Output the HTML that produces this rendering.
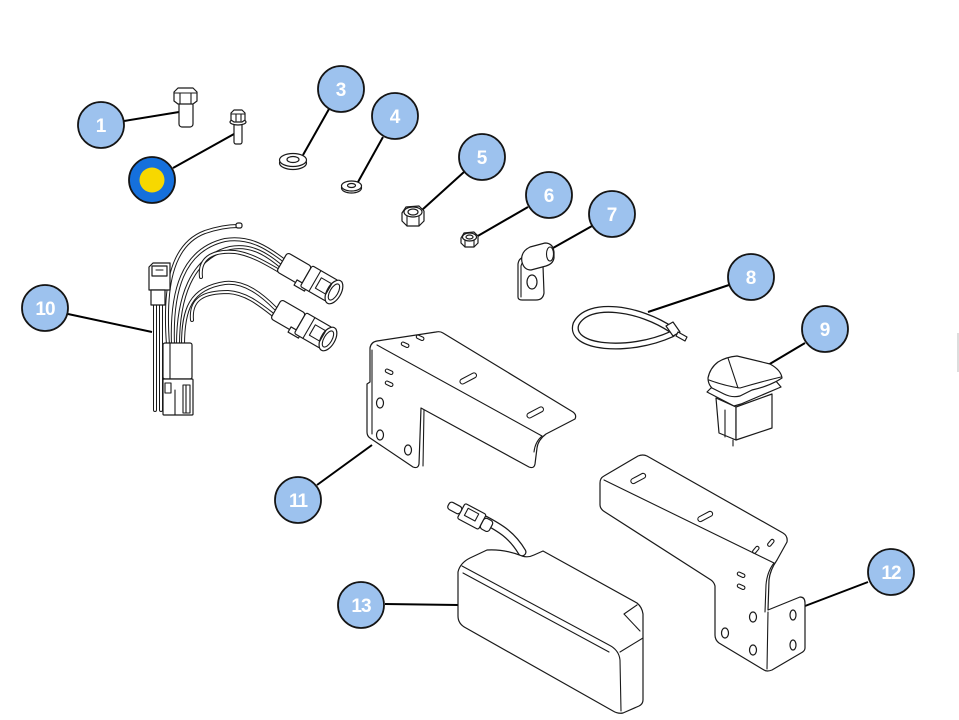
<!DOCTYPE html>
<html>
<head>
<meta charset="utf-8">
<style>
html,body{margin:0;padding:0;background:#fff;}
svg{display:block;}
.p{fill:#fff;stroke:#1a1a1a;stroke-width:1.2;stroke-linejoin:round;stroke-linecap:round;}
.l{fill:none;stroke:#1a1a1a;stroke-width:1.1;stroke-linecap:round;stroke-linejoin:round;}
.ld{stroke:#000;stroke-width:2;fill:none;}
.c{fill:#9dc2ee;stroke:#151515;stroke-width:1.8;}
.t{fill:#fff;font-family:"Liberation Sans",sans-serif;font-weight:bold;font-size:19px;text-anchor:middle;}
.tw{stroke:#1a1a1a;stroke-width:4;fill:none;stroke-linecap:round;}
.ti{stroke:#fff;stroke-width:2;fill:none;stroke-linecap:round;}
</style>
</head>
<body>
<svg width="959" height="720" viewBox="0 0 959 720" xmlns="http://www.w3.org/2000/svg">
<rect width="959" height="720" fill="#fff"/>

<!-- Leader lines -->
<line class="ld" x1="124" y1="121" x2="179" y2="112"/>
<line class="ld" x1="173" y1="168" x2="234" y2="134"/>
<line class="ld" x1="329" y1="109" x2="303" y2="155"/>
<line class="ld" x1="383" y1="137" x2="358" y2="182"/>
<line class="ld" x1="464" y1="172" x2="422" y2="210"/>
<line class="ld" x1="528" y1="207" x2="476" y2="237"/>
<line class="ld" x1="592" y1="226" x2="553" y2="248"/>
<line class="ld" x1="729" y1="285" x2="648" y2="312"/>
<line class="ld" x1="805" y1="343" x2="768" y2="365"/>
<line class="ld" x1="68" y1="314" x2="152" y2="332"/>
<line class="ld" x1="317" y1="485" x2="372" y2="445"/>
<line class="ld" x1="868" y1="582" x2="805" y2="606"/>
<line class="ld" x1="385" y1="604" x2="458" y2="605"/>

<!-- Part 1: hex bolt -->
<rect class="p" x="179" y="102" width="14" height="25" rx="3"/>
<polygon class="p" points="174,92 178,88 193,88 197,92 197,101 193,104 178,104 174,101"/>
<line class="l" x1="174" y1="93" x2="197" y2="93"/>
<line class="l" x1="180" y1="93" x2="180" y2="104"/>
<line class="l" x1="191" y1="93" x2="191" y2="104"/>

<!-- Part 2: flange bolt -->
<rect class="p" x="234" y="122" width="8" height="22" rx="2"/>
<ellipse class="p" cx="238" cy="122" rx="8" ry="3"/>
<polygon class="p" points="231,113 234,110 242,110 245,113 245,120 242,122 234,122 231,120"/>
<line class="l" x1="231" y1="114" x2="245" y2="114"/>
<line class="l" x1="236" y1="114" x2="236" y2="121"/>
<line class="l" x1="241" y1="114" x2="241" y2="121"/>

<!-- Part 3: washer -->
<ellipse class="p" cx="293" cy="163" rx="13.5" ry="6.5"/>
<ellipse class="p" cx="293" cy="160" rx="13.5" ry="6.5"/>
<ellipse class="p" cx="293" cy="159.5" rx="6" ry="3"/>

<!-- Part 4: small washer -->
<ellipse class="p" cx="351.5" cy="188" rx="10" ry="5"/>
<ellipse class="p" cx="351.5" cy="186" rx="10" ry="5"/>
<ellipse class="p" cx="351.5" cy="185.5" rx="4" ry="2"/>

<!-- Part 5: nut -->
<polygon class="p" points="402,213 406,207 419,206 424,211 424,221 419,226 407,226 402,221"/>
<ellipse class="p" cx="413" cy="212" rx="9" ry="5"/>
<ellipse class="p" cx="413" cy="212" rx="5" ry="3"/>
<line class="l" x1="407" y1="216" x2="407" y2="226"/>
<line class="l" x1="419" y1="216" x2="419" y2="226"/>

<!-- Part 6: small nut -->
<polygon class="p" points="461,238 464,233 474,232 478,236 478,243 474,247 465,247 461,243"/>
<ellipse class="p" cx="469.5" cy="237" rx="7" ry="4"/>
<ellipse class="p" cx="469.5" cy="237" rx="3.5" ry="2"/>
<line class="l" x1="465" y1="240" x2="465" y2="247"/>
<line class="l" x1="474" y1="240" x2="474" y2="247"/>

<!-- Part 7: P-clip -->
<path class="p" d="M518,297 L518,264 Q519,257 526,257 L543,266 L544,293 Q543,300 536,300 L522,300 Q518,300 518,297 Z"/>
<path class="l" d="M521,297 L521,266 Q522,261 527,261"/>
<ellipse class="p" cx="532" cy="282" rx="5" ry="7"/>
<path class="p" d="M522,262 Q520,252 530,247 L545,243 Q553,243 554,252 L554,258 Q553,264 546,266 L531,270 Q524,270 522,262 Z"/>
<ellipse class="l" cx="550" cy="254" rx="3.5" ry="7"/>

<!-- Part 8: cable tie -->
<path class="tw" style="stroke-width:7" d="M672,330 C640,308 588,300 576,324 C568,348 628,354 672,334"/>
<path class="ti" style="stroke-width:4.4" d="M672,330 C640,308 588,300 576,324 C568,348 628,354 672,334"/>
<polygon class="p" points="666,326 673,322 680,332 673,336"/>
<path class="p" d="M678,332 L687,337 L685,341 L676,336 Z"/>

<!-- Part 9: rocker switch -->
<polygon class="p" points="716,398 736,407 736,440 719,433"/>
<polygon class="p" points="736,407 772,394 772,428 736,440"/>
<line class="l" x1="733" y1="440" x2="733" y2="446"/>
<line class="l" x1="725" y1="410" x2="725" y2="437"/>
<polygon class="p" points="707,392 711,388 775,380 781,387 741,404 734,406"/>
<path class="p" d="M708,378 Q710,368 718,362 Q726,357 737,356 L770,364 Q781,370 782,378 Q770,386 752,390 L740,396 Q732,398 724,394 L712,388 Q708,384 708,378 Z"/>
<path class="l" d="M709,380 Q725,386 740,388 Q760,382 781,377"/>
<line class="l" x1="728" y1="358" x2="738" y2="388"/>

<!-- Part 10: harness wires -->
<g>
<path class="tw" d="M155,305 L155,410"/><path class="ti" d="M155,305 L155,410"/>
<path class="tw" d="M161,305 L161,410"/><path class="ti" d="M161,305 L161,410"/>
<path class="tw" d="M168,345 C164,290 170,245 205,232 C220,227 230,226 238,226"/><path class="ti" d="M168,345 C164,290 170,245 205,232 C220,227 230,226 238,226"/>
<path class="tw" d="M173,345 C171,292 182,250 225,240 C250,236 268,248 286,262"/><path class="ti" d="M173,345 C171,292 182,250 225,240 C250,236 268,248 286,262"/>
<path class="tw" d="M178,345 C178,300 190,258 230,248 C252,244 268,255 283,268"/><path class="ti" d="M178,345 C178,300 190,258 230,248 C252,244 268,255 283,268"/>
<path class="tw" d="M201,277 C199,260 210,250 235,252 C250,254 264,262 281,272"/><path class="ti" d="M201,277 C199,260 210,250 235,252 C250,254 264,262 281,272"/>
<path class="tw" d="M183,345 C183,310 190,288 225,283 C245,281 262,295 275,308"/><path class="ti" d="M183,345 C183,310 190,288 225,283 C245,281 262,295 275,308"/>
<path class="tw" d="M192,320 C190,298 205,292 228,292 C245,293 258,303 272,314"/><path class="ti" d="M192,320 C190,298 205,292 228,292 C245,293 258,303 272,314"/>
<rect class="p" x="236" y="223" width="6" height="5" rx="2"/>
</g>
<!-- small connector -->
<polygon class="p" points="149,267 153,263 170,263 170,290 149,290"/>
<rect class="p" x="152" y="266" width="15" height="10"/>
<line class="l" x1="156" y1="270" x2="163" y2="270"/>
<rect class="p" x="151" y="290" width="14" height="15"/>
<!-- big connector -->
<rect class="p" x="163" y="343" width="29" height="36" rx="2"/>
<line class="l" x1="170" y1="343" x2="170" y2="379"/>
<rect class="p" x="163" y="379" width="30" height="36" rx="1"/>
<rect class="l" x="165" y="383" width="6" height="10"/>
<line class="l" x1="175" y1="390" x2="175" y2="415"/>
<rect class="l" x="183" y="385" width="7" height="28"/>
<line class="l" x1="186" y1="385" x2="186" y2="413"/>
<!-- upper connector -->
<g transform="translate(282,262) rotate(30)">
<rect class="p" x="0" y="-11" width="28" height="22" rx="3"/>
<rect class="p" x="22" y="8" width="12" height="6"/>
<rect class="p" x="28" y="-12" width="30" height="24" rx="2"/>
<line class="l" x1="38" y1="-12" x2="38" y2="12"/>
<ellipse class="p" cx="60" cy="0" rx="7" ry="13"/>
<ellipse class="l" cx="60" cy="0" rx="4" ry="9"/>
<rect class="l" x="42" y="-6" width="12" height="12"/>
</g>
<!-- lower connector -->
<g transform="translate(276,309) rotate(30)">
<rect class="p" x="0" y="-11" width="28" height="22" rx="3"/>
<rect class="p" x="22" y="8" width="12" height="6"/>
<rect class="p" x="28" y="-12" width="30" height="24" rx="2"/>
<line class="l" x1="38" y1="-12" x2="38" y2="12"/>
<ellipse class="p" cx="60" cy="0" rx="7" ry="13"/>
<ellipse class="l" cx="60" cy="0" rx="4" ry="9"/>
<rect class="l" x="42" y="-6" width="12" height="12"/>
</g>

<!-- Part 11: bracket -->
<path class="p" d="M370,348 Q371,342 377,341 L436,332 Q440,331 443,333 L573,412 Q577,415 575,419 L546,434 Q538,440 537,448 L535,464 Q534,469 529,467 L421,408 L419,464 Q418,469 413,467 L370,438 Q367,436 367,432 L367,384 L370,382 Z"/>
<line class="l" x1="377" y1="345" x2="542" y2="436"/>
<line class="l" x1="372" y1="350" x2="372" y2="434"/>
<line class="l" x1="424" y1="410" x2="423" y2="466"/>
<path class="l" d="M542,436 Q535,442 534,452"/>
<g class="l">
<rect x="401" y="343" width="8" height="3.5" rx="1.7" transform="rotate(25 405 345)"/>
<rect x="416" y="336" width="8" height="3.5" rx="1.7" transform="rotate(25 420 338)"/>
<rect x="385" y="370" width="8" height="3.5" rx="1.7" transform="rotate(25 389 372)"/>
<rect x="385" y="382" width="8" height="3.5" rx="1.7" transform="rotate(25 389 384)"/>
<rect x="459" y="376" width="18" height="5" rx="2.5" transform="rotate(-28 468 378)"/>
<rect x="526" y="410" width="18" height="5" rx="2.5" transform="rotate(-28 535 412)"/>
</g>
<ellipse class="p" cx="380" cy="403" rx="3.5" ry="5"/>
<ellipse class="p" cx="380" cy="435" rx="3.5" ry="5"/>
<ellipse class="p" cx="408" cy="450" rx="3.5" ry="5"/>

<!-- Part 12: bracket -->
<path class="p" d="M600,483 Q600,478 604,476 L638,456 Q643,454 647,456 L783,533 Q788,536 787,542 L777,560 Q770,570 769,580 L768,610 L800,597 Q805,597 805,603 L805,648 Q805,651 801,653 L772,670 Q767,672 764,670 L719,643 Q715,640 715,635 L715,586 Q714,582 711,580 L605,512 Q600,509 600,505 Z"/>
<line class="l" x1="604" y1="480" x2="774" y2="563"/>
<line class="l" x1="768" y1="612" x2="767" y2="669"/>
<path class="l" d="M774,563 Q767,572 766,585 L765,612"/>
<g class="l">
<rect x="630" y="476" width="16" height="5" rx="2.5" transform="rotate(-28 638 478)"/>
<rect x="697" y="514" width="16" height="5" rx="2.5" transform="rotate(-28 705 516)"/>
<rect x="752" y="548" width="8" height="3.5" rx="1.7" transform="rotate(-50 756 550)"/>
<rect x="767" y="541" width="8" height="3.5" rx="1.7" transform="rotate(-50 771 543)"/>
<rect x="737" y="573" width="8" height="3.5" rx="1.7" transform="rotate(25 741 575)"/>
<rect x="737" y="585" width="8" height="3.5" rx="1.7" transform="rotate(25 741 587)"/>
</g>
<ellipse class="p" cx="753" cy="617" rx="3.5" ry="5"/>
<ellipse class="p" cx="725" cy="633" rx="3.5" ry="5"/>
<ellipse class="p" cx="753" cy="650" rx="3.5" ry="5"/>
<ellipse class="p" cx="793" cy="615" rx="3" ry="5"/>
<ellipse class="p" cx="793" cy="645" rx="3" ry="5"/>

<!-- Part 13: light -->
<path class="tw" style="stroke-width:9" d="M485,520 C500,528 512,535 522,552"/>
<path class="ti" style="stroke-width:6.5" d="M485,520 C500,528 512,535 522,552"/>
<g transform="translate(468,515) rotate(28)">
<rect class="p" x="-8" y="-9" width="24" height="17" rx="2"/>
<rect class="l" x="-3" y="-6" width="12" height="8"/>
<rect class="p" x="-22" y="-4" width="14" height="8" rx="3"/>
<rect class="p" x="16" y="-6" width="10" height="12" rx="3"/>
</g>
<path class="p" d="M458,572 Q460,563 470,558 L487,550 Q505,549 522,556 Q528,558 534,555 L543,551 L637,603 Q642,607 643,614 L643,700 Q643,704 639,706 L623,713 Q618,714 613,711 L466,628 Q458,624 458,616 Z"/>
<path class="l" d="M462,566 L609,645 Q619,650 620,660 L621,711"/>
<path class="l" d="M463,573 L609,652"/>
<path class="l" d="M620,652 L643,638"/>
<path class="l" d="M624,614 L637,605 M624,614 L640,631"/>

<!-- Callout circles -->
<circle class="c" cx="101" cy="125" r="23"/><text class="t" x="101" y="132">1</text>
<circle cx="152" cy="180" r="23" fill="#1570dc" stroke="#151515" stroke-width="1.8"/>
<circle cx="152" cy="180" r="12.5" fill="#f7d800"/>
<circle class="c" cx="341" cy="89" r="23"/><text class="t" x="341" y="96">3</text>
<circle class="c" cx="395" cy="116" r="23"/><text class="t" x="395" y="123">4</text>
<circle class="c" cx="482" cy="157" r="23"/><text class="t" x="482" y="164">5</text>
<circle class="c" cx="549" cy="195" r="23"/><text class="t" x="549" y="202">6</text>
<circle class="c" cx="612" cy="214" r="23"/><text class="t" x="612" y="221">7</text>
<circle class="c" cx="751" cy="277" r="23"/><text class="t" x="751" y="284">8</text>
<circle class="c" cx="825" cy="329" r="23"/><text class="t" x="825" y="336">9</text>
<circle class="c" cx="45" cy="308" r="23"/><text class="t" x="45" y="315" letter-spacing="-1">10</text>
<circle class="c" cx="298" cy="500" r="23"/><text class="t" x="298" y="507" letter-spacing="-1">11</text>
<circle class="c" cx="891" cy="572" r="23"/><text class="t" x="891" y="579" letter-spacing="-1">12</text>
<circle class="c" cx="361" cy="605" r="23"/><text class="t" x="361" y="612" letter-spacing="-1">13</text>

<line x1="958" y1="333" x2="958" y2="372" stroke="#bbb" stroke-width="1"/>
</svg>
</body>
</html>
